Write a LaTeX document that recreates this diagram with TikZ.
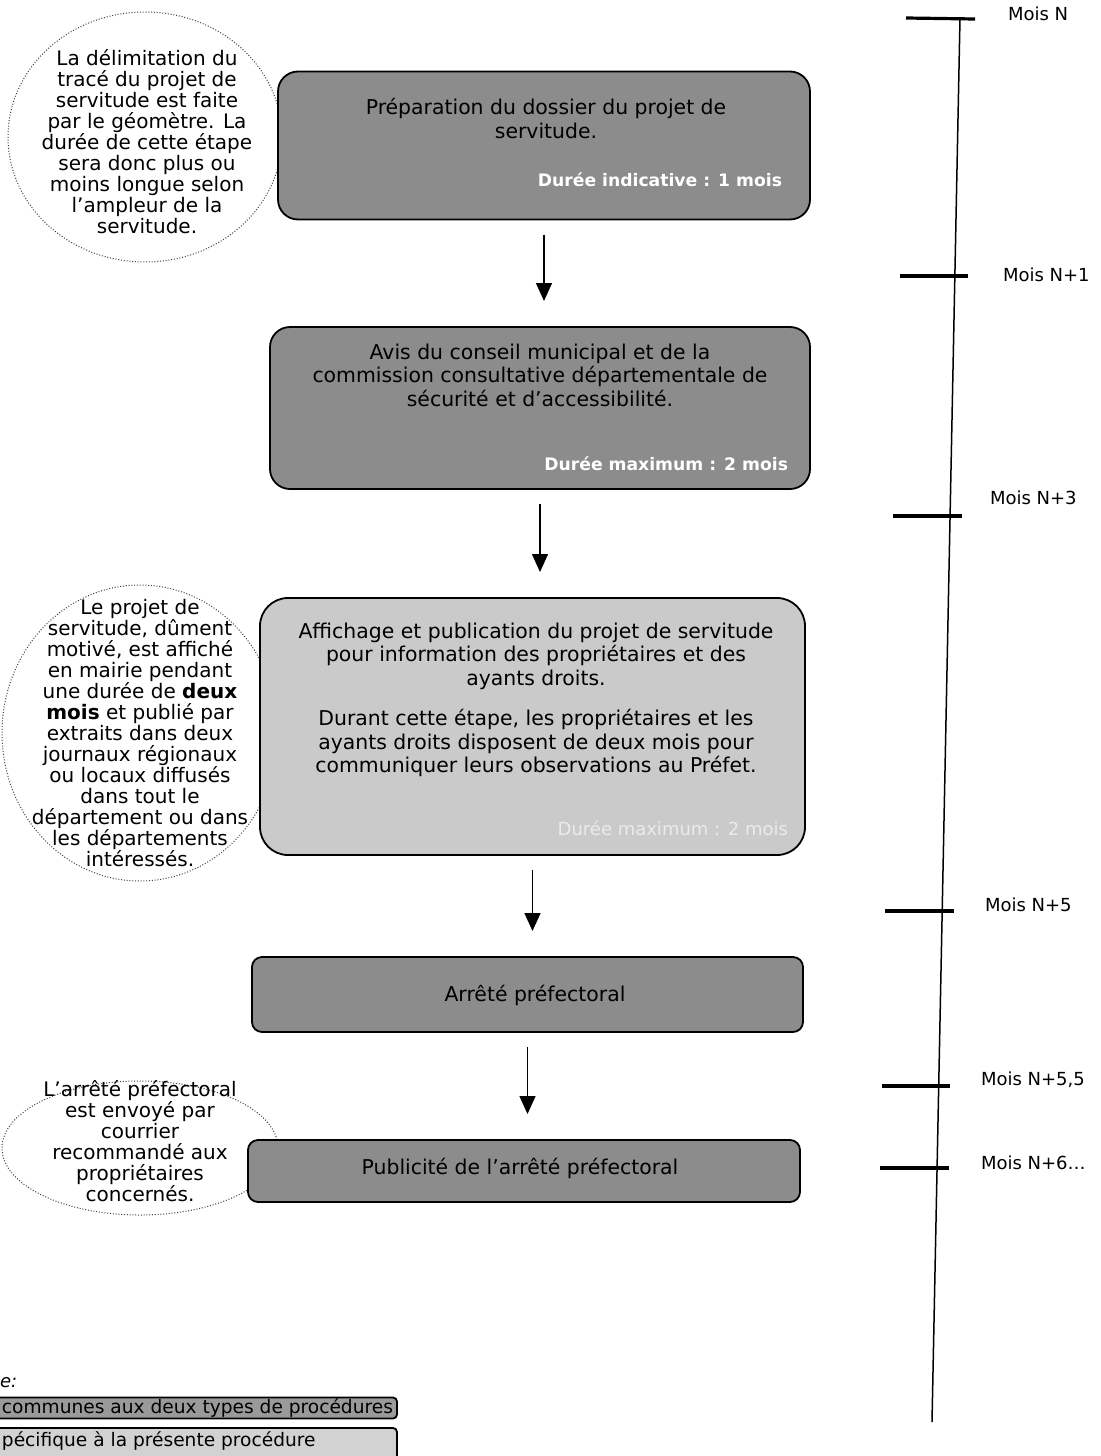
\documentclass[tikz,border=0pt]{standalone}
\usepackage{fontspec}
\setmainfont{DejaVu Sans}
\usetikzlibrary{shapes.geometric,arrows.meta}
\definecolor{darkfill}{HTML}{8C8C8C}
\definecolor{lightfill}{HTML}{CACACA}
\definecolor{legdark}{HTML}{9A9A9A}
\definecolor{leglight}{HTML}{D2D2D2}
\begin{document}
\begin{tikzpicture}[x=0.5pt,y=-0.5pt,
  every node/.style={inner sep=0pt,outer sep=0pt},
  darkbox/.style={draw=black,line width=0.9pt,fill=darkfill,rounded corners=10pt},
  smallbox/.style={draw=black,line width=0.9pt,fill=darkfill,rounded corners=5pt},
  lightbox/.style={draw=black,line width=0.9pt,fill=lightfill,rounded corners=14pt},
  note/.style={ellipse,draw=black!75,line width=0.5pt,dash pattern=on 0.5pt off 0.9pt},
  btext/.style={align=center,font=\fontsize{10.2}{11.7}\selectfont},
  ntext/.style={align=center,font=\fontsize{10}{10.5}\selectfont},
  dur/.style={anchor=east,font=\bfseries\fontsize{8.6}{11}\selectfont,text=white},
  flow/.style={line width=0.75pt,-{Triangle[width=8pt,length=9pt]},shorten <=7.5pt,shorten >=13pt},
  tick/.style={line width=1.6pt},
  tline/.style={line width=0.75pt},
  tlabel/.style={anchor=west,font=\fontsize{9}{11}\selectfont},
  legtext/.style={anchor=west,font=\fontsize{9.3}{11}\selectfont}
]
\clip (0,0) rectangle (1101,1456);
\fill[white] (0,0) rectangle (1101,1456);

% notes (ellipses)
\node[note,minimum width=137pt,minimum height=125pt] (e1) at (145,137) {};
\node[note,minimum width=138pt,minimum height=148pt] (e2) at (140,733) {};
\node[note,minimum width=138pt,minimum height=67pt] (e3) at (140,1148) {};

% boxes
\node[darkbox,minimum width=266pt,minimum height=74pt] (b1) at (544,145.5) {};
\node[darkbox,minimum width=270pt,minimum height=81pt] (b2) at (540,408) {};
\node[lightbox,minimum width=272.5pt,minimum height=128.5pt] (b3) at (532.5,726.5) {};
\node[smallbox,minimum width=275.5pt,minimum height=37.5pt] (b4) at (527.5,994.5) {};
\node[smallbox,minimum width=276pt,minimum height=31pt] (b5) at (524,1171) {};

% box texts
\node[btext] (b1t) at (546,118.5) {Préparation du dossier du projet de\\servitude.};
\node[dur] (b1d) at (782,180) {Durée indicative : 1 mois};
\node[btext] (b2t) at (540,375) {Avis du conseil municipal et de la\\commission consultative départementale de\\sécurité et d’accessibilité.};
\node[dur] (b2d) at (788,464) {Durée maximum : 2 mois};
\node[btext] (b3t) at (536,656) {Affichage et publication du projet de servitude\\pour information des propriétaires et des\\ayants droits.};
\node[btext] (b3u) at (536,743) {Durant cette étape, les propriétaires et les\\ayants droits disposent de deux mois pour\\communiquer leurs observations au Préfet.};
\node[dur,font=\fontsize{9}{11}\selectfont,text=white!92!black] (b3d) at (788,828) {Durée maximum : 2 mois};
\node[btext] (b4t) at (535,995) {Arrêté préfectoral};
\node[btext] (b5t) at (520,1168) {Publicité de l’arrêté préfectoral};

% note texts
\node[ntext] (n1) at (147,142) {La délimitation du\\tracé du projet de\\servitude est faite\\par le géomètre. La\\durée de cette étape\\sera donc plus ou\\moins longue selon\\l’ampleur de la\\servitude.};
\node[ntext] (n2) at (140,733) {Le projet de\\servitude, dûment\\motivé, est affiché\\en mairie pendant\\une durée de \textbf{deux}\\\textbf{mois} et publié par\\extraits dans deux\\journaux régionaux\\ou locaux diffusés\\dans tout le\\département ou dans\\les départements\\intéressés.};
\node[ntext] (n3) at (140,1141) {L’arrêté préfectoral\\est envoyé par\\courrier\\recommandé aux\\propriétaires\\concernés.};

% arrows
\draw[flow] (b1.south) -- (b1.south |- b2.north);
\draw[flow] (b2.south) -- (b2.south |- b3.north);
\draw[flow] (b3.south) -- (b3.south |- b4.north);
\draw[flow] (b4.south) -- (b4.south |- b5.north);

% timeline
\coordinate (tt) at (960,18);
\coordinate (tb) at (932,1422);
\draw[tline] (tt) -- (tb);
\coordinate (k0a) at (906,18);   \coordinate (k0b) at (975,19);
\coordinate (k1a) at (900,276);  \coordinate (k1b) at (968,276);
\coordinate (k2a) at (893,516);  \coordinate (k2b) at (962,516);
\coordinate (k3a) at (885,911);  \coordinate (k3b) at (954,911);
\coordinate (k4a) at (882,1086); \coordinate (k4b) at (950,1086);
\coordinate (k5a) at (880,1168); \coordinate (k5b) at (949,1168);
\draw[tick] (k0a) -- (k0b);
\draw[tick] (k1a) -- (k1b);
\draw[tick] (k2a) -- (k2b);
\draw[tick] (k3a) -- (k3b);
\draw[tick] (k4a) -- (k4b);
\draw[tick] (k5a) -- (k5b);
\node[tlabel] (m0) at (1008,14) {Mois N};
\node[tlabel] (m1) at (1003,275) {Mois N+1};
\node[tlabel] (m2) at (990,498) {Mois N+3};
\node[tlabel] (m3) at (985,905) {Mois N+5};
\node[tlabel] (m4) at (981,1080) {Mois N+5,5};
\node[tlabel] (m5) at (981,1163) {Mois N+6…};

% legend
\node[anchor=west,font=\itshape\fontsize{9}{11}\selectfont] (lg) at (0,1383) {e:};
\node[draw=black,line width=0.9pt,fill=legdark,rounded corners=2pt,minimum width=206pt,minimum height=10.5pt] (l1) at (191,1408) {};
\node[draw=black,line width=0.9pt,fill=leglight,rounded corners=2pt,minimum width=206pt,minimum height=16pt] (l2) at (191,1444) {};
\node[legtext] (l1t) at (2,1408) {communes aux deux types de procédures};
\node[legtext] (l2t) at (2,1441) {pécifique à la présente procédure};
\end{tikzpicture}
\end{document}
